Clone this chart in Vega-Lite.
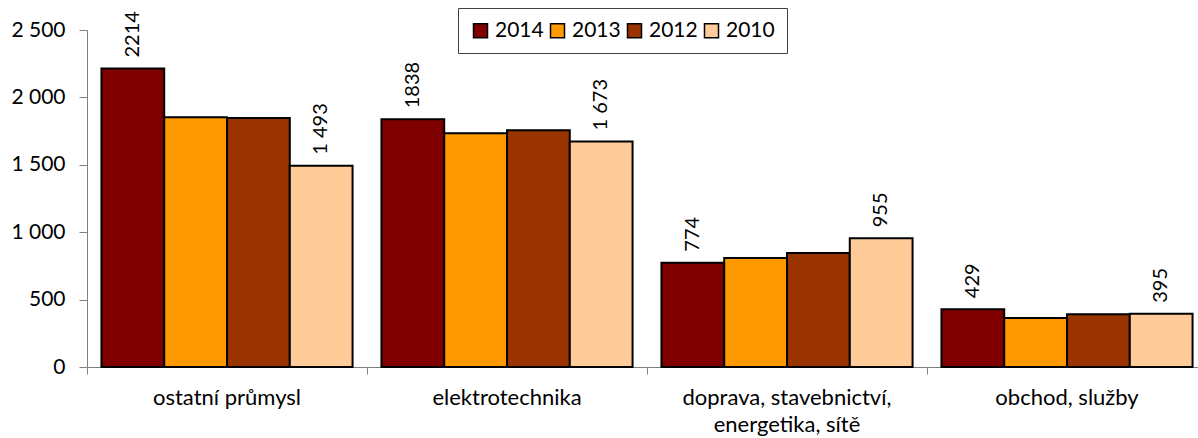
{
  "$schema": "https://vega.github.io/schema/vega-lite/v6.json",
  "autosize": "none",
  "width": 1111,
  "height": 337,
  "padding": {"left": 87, "top": 30, "right": 0, "bottom": 71},
  "background": "white",
  "config": {
    "font": "Lato",
    "view": {"stroke": null},
    "axis": {"grid": false, "labelColor": "black", "domainColor": "#808080", "tickColor": "#808080", "labelFont": "Lato"}
  },
  "data": {
    "values": [
      {"sector": "ostatní průmysl", "year": "2014", "value": 2214, "label": "2214"},
      {"sector": "ostatní průmysl", "year": "2013", "value": 1852, "label": ""},
      {"sector": "ostatní průmysl", "year": "2012", "value": 1847, "label": ""},
      {"sector": "ostatní průmysl", "year": "2010", "value": 1493, "label": "1 493"},
      {"sector": "elektrotechnika", "year": "2014", "value": 1838, "label": "1838"},
      {"sector": "elektrotechnika", "year": "2013", "value": 1734, "label": ""},
      {"sector": "elektrotechnika", "year": "2012", "value": 1756, "label": ""},
      {"sector": "elektrotechnika", "year": "2010", "value": 1673, "label": "1 673"},
      {"sector": "doprava, stavebnictví, energetika, sítě", "year": "2014", "value": 774, "label": "774"},
      {"sector": "doprava, stavebnictví, energetika, sítě", "year": "2013", "value": 809, "label": ""},
      {"sector": "doprava, stavebnictví, energetika, sítě", "year": "2012", "value": 846, "label": ""},
      {"sector": "doprava, stavebnictví, energetika, sítě", "year": "2010", "value": 955, "label": "955"},
      {"sector": "obchod, služby", "year": "2014", "value": 429, "label": "429"},
      {"sector": "obchod, služby", "year": "2013", "value": 363, "label": ""},
      {"sector": "obchod, služby", "year": "2012", "value": 391, "label": ""},
      {"sector": "obchod, služby", "year": "2010", "value": 395, "label": "395"}
    ]
  },
  "encoding": {
    "x": {
      "field": "sector",
      "type": "nominal",
      "sort": null,
      "title": null,
      "scale": {"paddingInner": 0, "paddingOuter": 0, "range": [0, 1120]},
      "axis": {
        "labelAngle": 0,
        "labelFontSize": 22,
        "labelPadding": 13,
        "labelLimit": 0,
        "tickSize": 7,
        "bandPosition": 0,
        "labelLineHeight": 27,
        "labelBaseline": "top",
        "labelExpr": "datum.label == 'doprava, stavebnictví, energetika, sítě' ? ['doprava, stavebnictví,', 'energetika, sítě'] : datum.label"
      }
    },
    "xOffset": {
      "field": "year",
      "type": "nominal",
      "sort": ["2014", "2013", "2012", "2010"],
      "scale": {"paddingInner": 0, "paddingOuter": 0.23}
    },
    "y": {
      "field": "value",
      "type": "quantitative",
      "title": null,
      "scale": {"domain": [0, 2500], "nice": false},
      "axis": {
        "values": [0, 500, 1000, 1500, 2000, 2500],
        "labelFontSize": 21,
        "tickSize": 8,
        "labelPadding": 14,
        "labelExpr": "replace(format(datum.value, ','), ',', ' ')"
      }
    }
  },
  "layer": [
    {
      "mark": {"type": "bar", "stroke": "black", "strokeWidth": 2},
      "encoding": {
        "color": {
          "field": "year",
          "type": "nominal",
          "sort": ["2014", "2013", "2012", "2010"],
          "scale": {"domain": ["2014", "2013", "2012", "2010"], "range": ["#800000", "#FF9900", "#993300", "#FFCC99"]},
          "legend": {
            "title": null,
            "orient": "none",
            "direction": "horizontal",
            "legendX": 371,
            "legendY": -22,
            "padding": 12,
            "strokeColor": "#404040",
            "fillColor": "white",
            "symbolType": "square",
            "symbolSize": 196,
            "symbolStrokeColor": "black",
            "symbolStrokeWidth": 1.5,
            "symbolOpacity": 1,
            "labelFontSize": 21,
            "labelColor": "black",
            "labelOffset": 4,
            "columnPadding": 3
          }
        }
      }
    },
    {
      "mark": {"type": "text", "angle": 270, "align": "left", "baseline": "middle", "dx": 11, "fontSize": 20, "color": "black"},
      "encoding": {
        "text": {"field": "label", "type": "nominal"}
      }
    }
  ]
}
